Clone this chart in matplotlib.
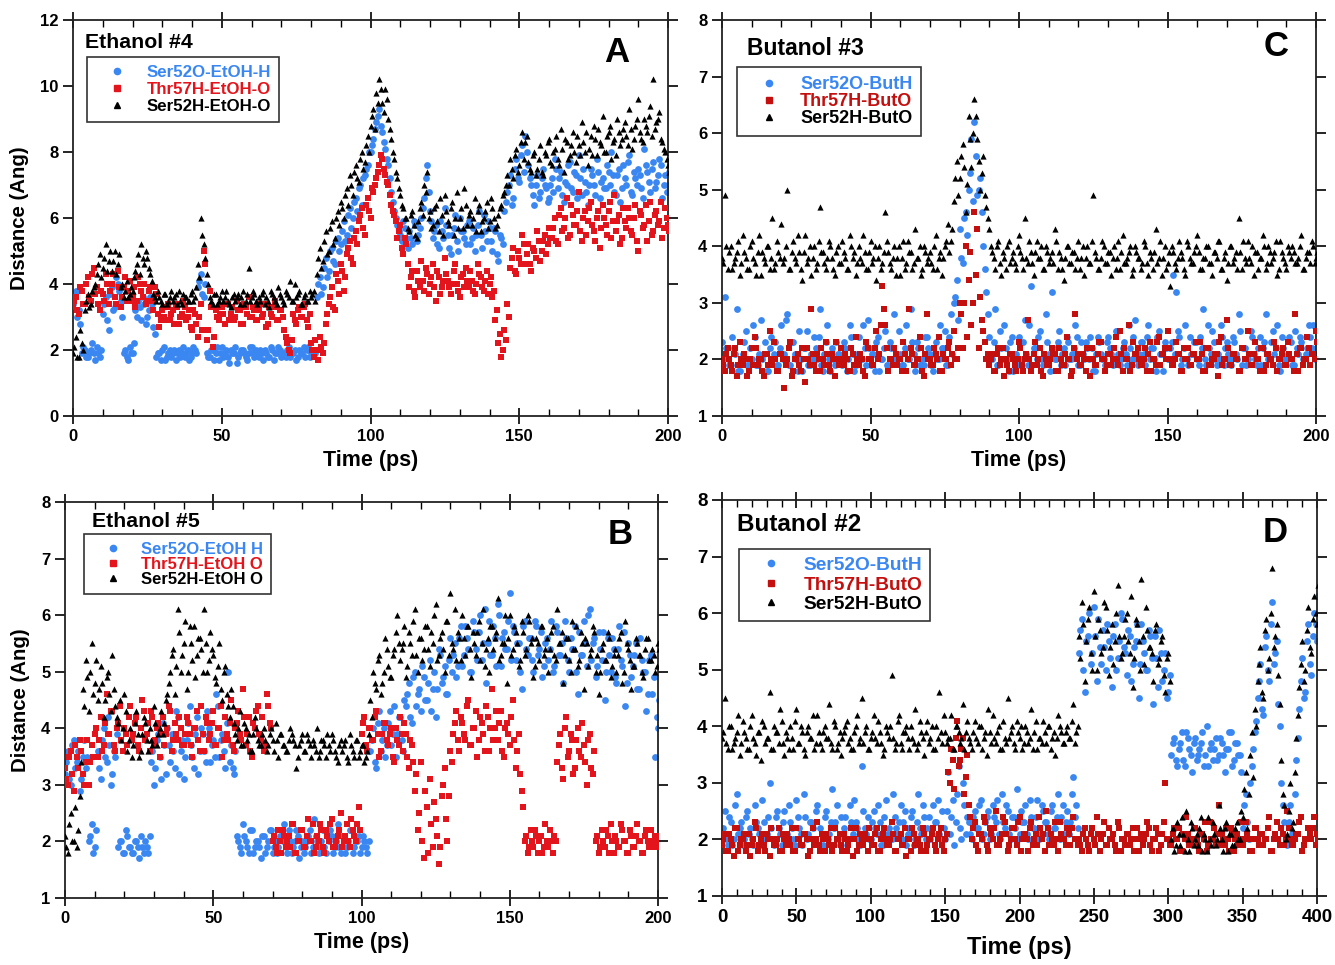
import numpy as np
import matplotlib
matplotlib.use("Agg")
import matplotlib.pyplot as plt
from matplotlib.lines import Line2D
from matplotlib.ticker import MultipleLocator

plt.rcParams['font.family'] = ['Liberation Sans', 'DejaVu Sans']
plt.rcParams['font.weight'] = 'bold'

# ---------------- Panel A : Ethanol #4 (0-200 ps) ----------------
A_blue = [3.4, 3.8, 3.2, 1.9, 2.0, 1.8, 2.0, 1.9, 2.1, 1.8,
          3.1, 3.6, 2.6, 3.9, 3.3, 4.0, 3.5, 1.9, 1.8, 2.1, 1.9,
          3.2, 3.5, 2.9, 3.4, 3.0, 3.6, 2.7,
          1.8, 1.9, 2.0, 1.7, 1.9, 1.8, 2.0, 1.9, 1.8, 2.1, 1.9, 1.7, 1.9, 2.0,
          3.9, 4.3, 3.6,
          1.9, 1.8, 2.0, 1.9, 1.7, 2.1, 1.9, 1.8, 2.0, 1.9, 1.6, 1.9, 2.0, 1.8, 1.9,
          2.1, 1.8, 1.9, 2.0, 1.7, 1.9, 1.8, 2.0, 1.9, 2.1, 1.8, 1.9, 2.0, 1.8, 1.9,
          1.7, 2.0, 1.9, 1.8, 2.1, 1.9, 2.0,
          3.6, 4.2, 3.9, 4.8, 4.4, 5.1, 4.6, 5.4,
          5.2, 5.9, 5.5, 6.3, 6.0, 6.6, 6.9, 6.4, 7.3, 7.6,
          8.0, 8.4, 8.9, 9.3, 8.6, 8.1, 7.6,
          6.8, 6.2, 5.8, 5.5, 5.9, 5.4,
          5.6, 5.2, 5.8, 5.5, 6.0, 6.6, 7.6, 6.2,
          5.4, 5.8, 5.1, 5.6, 6.3, 5.5, 4.9, 5.7, 5.3, 6.0, 5.6, 5.2, 5.9, 5.4, 5.0,
          5.8, 5.5, 6.1, 5.3, 5.7, 5.0, 5.6, 4.7, 5.4,
          6.2, 6.8, 7.3, 6.6, 7.8, 7.1, 8.2, 8.5, 7.6, 7.0, 6.4, 7.3, 6.8, 7.5, 6.9,
          6.6, 7.2, 7.8, 6.9, 7.4, 6.5, 7.0, 7.7, 6.8, 7.3, 7.9, 6.7, 7.1, 6.4, 7.5,
          7.0, 7.8, 6.6, 7.2, 6.9, 7.4, 8.0, 6.8, 7.3, 6.5, 7.6, 7.0, 7.9, 6.7, 7.2,
          7.5, 6.9, 8.1, 7.4, 6.8, 7.7, 7.1, 7.8, 6.6, 7.3, 7.0]
A_blue2 = [3.6, 3.0, 2.8, 2.1, 1.8, 1.9, 2.2, 1.7, 1.9, 2.0,
           3.4, 2.9, 3.7, 3.2, 4.2, 3.8, 3.0, 2.0, 1.7, 1.9, 2.2,
           3.0, 3.3, 3.6, 2.8, 3.2, 3.4, 2.5,
           1.9, 1.7, 2.1, 1.8, 2.0, 1.9, 1.7, 2.0, 1.9, 1.8, 2.0, 1.8, 2.1, 1.9,
           4.1, 3.7, 4.0,
           1.8, 2.0, 1.7, 2.1, 1.9, 1.8, 2.0, 1.6, 1.9, 2.1, 1.8, 2.0, 1.9, 1.7, 2.1,
           1.9, 2.0, 1.8, 1.9, 2.0, 1.8, 2.1, 1.7, 1.9, 2.0, 1.9, 1.8, 2.1, 1.9, 2.0,
           1.8, 1.9, 2.1, 2.0, 1.8, 2.0, 1.9,
           4.0, 3.7, 4.5, 4.2, 5.0, 4.7, 5.3, 5.0,
           5.6, 5.3, 6.1, 5.7, 6.5, 6.2, 7.0, 7.2, 7.5, 8.0,
           8.2, 8.7, 9.1, 8.8, 8.3, 7.8, 7.2,
           6.5, 6.0, 5.6, 5.3, 5.7, 5.1,
           5.4, 5.9, 5.3, 5.7, 6.3, 7.2, 6.8, 5.9,
           5.6, 5.2, 5.9, 5.4, 5.8, 5.1, 5.5, 6.1, 5.0, 5.6, 5.4, 5.8, 5.2, 5.7, 5.5,
           6.2, 5.1, 5.6, 5.9, 5.3, 5.7, 4.9, 5.5, 5.2,
           6.5, 7.0, 6.4, 7.5, 7.2, 7.9, 7.4, 8.0, 7.2, 6.7, 7.0, 6.6, 7.2, 7.0, 6.5,
           7.0, 6.8, 7.5, 7.2, 6.7, 7.1, 7.6, 6.9, 7.4, 6.6, 7.2, 7.5, 6.8, 7.0, 7.3,
           6.7, 7.4, 7.1, 6.9, 7.6, 7.0, 7.3, 6.7, 7.5, 6.9, 7.2, 7.7, 6.8, 7.4, 7.0,
           7.3, 6.6, 7.6, 7.1, 7.5, 6.9, 7.3, 7.6, 7.0, 6.8, 7.4]
A_red = [3.3, 3.6, 3.1, 3.8, 3.4, 4.2, 3.5, 4.5, 3.9, 3.2,
         3.7, 4.3, 3.4, 4.0, 3.6, 4.4, 3.3, 3.9, 3.5, 4.1,
         3.6, 3.3, 4.2, 3.8, 4.0, 3.5, 3.9, 3.2, 3.7, 2.7,
         3.2, 2.9, 3.4, 3.1, 2.8, 3.3, 3.0, 3.5, 2.9, 3.2, 2.6, 3.1, 2.4, 3.4, 5.0,
         2.3, 3.8, 2.1, 3.2, 2.9,
         3.3, 2.8, 3.4, 3.1, 2.9, 3.5, 3.2, 2.8, 3.3, 3.6, 3.0, 3.2, 2.9, 3.4, 3.1,
         2.7, 3.3, 3.0, 3.5, 2.9, 3.2, 2.6, 2.2, 1.9, 3.1, 2.8, 3.3, 3.0, 3.4, 2.7,
         2.2, 1.8, 2.0, 2.4, 1.9,
         2.8, 3.4, 3.9, 3.2, 4.1, 4.6, 3.8, 4.9, 5.3, 4.6, 5.6,
         5.9, 6.3, 5.5, 6.6, 6.0, 6.8, 7.2, 7.6,
         7.8, 7.3, 7.0, 6.4, 6.1, 5.4, 5.8, 4.9, 5.2,
         3.9, 4.4, 3.6, 4.1, 4.7, 3.8, 4.3, 4.0, 4.6, 3.5, 4.2, 3.9, 4.8, 4.1, 3.7,
         4.4, 4.0, 3.6, 4.3, 4.5, 3.9, 4.1, 3.7, 4.6, 4.2, 3.8, 4.4, 4.0, 3.6,
         2.9, 2.2, 1.8, 2.6, 3.4,
         4.5, 5.1, 4.3, 4.8, 5.5, 4.6, 5.2, 4.4, 5.0, 5.6, 4.7, 5.3, 4.9, 5.7,
         5.4, 6.0, 5.2, 6.3, 5.7, 6.6, 5.5, 6.1, 5.8, 6.8, 5.3, 6.2, 5.9, 6.5, 5.6,
         6.0, 5.1, 6.4, 5.8, 6.2, 5.4, 6.7, 5.9, 5.2, 6.3, 5.7, 6.0, 5.5, 6.4, 5.0,
         6.1, 5.8, 5.3, 6.5, 5.6, 6.2, 5.9, 5.4, 6.3, 5.8]
A_red2 = [3.5, 3.2, 3.9, 3.4, 4.0, 3.6, 4.3, 3.7, 3.4, 3.8,
          3.5, 4.0, 3.8, 4.3, 3.4, 3.9, 3.6, 4.2, 3.8, 3.5,
          3.9, 3.5, 4.0, 3.6, 3.4, 3.8, 3.5, 3.9, 3.1, 2.9,
          3.0, 3.3, 2.9, 3.2, 3.4, 2.8, 3.1, 3.3, 3.0, 2.7, 3.2, 2.8, 3.0, 2.6, 4.6,
          2.6, 3.3, 2.4, 3.0, 3.1,
          3.1, 3.4, 2.9, 3.3, 3.0, 3.2, 2.8, 3.4, 3.1, 3.0, 3.3, 2.9, 3.2, 3.0, 3.4,
          2.8, 3.1, 3.3, 2.9, 3.2, 3.0, 2.4, 2.0, 2.3, 2.9, 3.2, 3.0, 3.3, 2.9, 3.1,
          2.0, 2.3, 1.7, 2.1, 2.2,
          3.1, 3.6, 3.3, 4.3, 3.7, 4.4, 4.2, 5.1, 4.8, 5.4, 5.2,
          6.1, 5.7, 6.4, 6.2, 6.9, 7.0, 7.4, 7.9,
          7.5, 7.1, 6.7, 6.2, 5.9, 5.6, 5.1, 5.4, 4.6,
          4.2, 3.8, 4.4, 3.9, 4.1, 4.5, 3.7, 4.2, 3.9, 4.4, 3.7, 4.1, 4.3, 3.9, 4.0,
          4.6, 3.8, 4.2, 3.9, 4.1, 4.4, 3.8, 4.0, 4.3, 3.9, 4.1, 3.7, 4.2, 3.8,
          3.2, 2.5, 2.0, 2.3, 3.0,
          4.8, 4.4, 5.0, 4.6, 5.2, 4.9, 4.6, 5.1, 4.8, 5.3, 5.0, 5.5, 5.2, 5.4,
          5.7, 5.3, 6.1, 5.6, 6.0, 5.4, 6.4, 5.8, 6.2, 5.6, 6.0, 5.5, 6.3, 5.8, 5.3,
          6.2, 5.7, 6.0, 5.5, 6.5, 5.9, 5.6, 6.1, 5.4, 5.9, 6.3, 5.6, 6.0, 5.3, 6.2,
          5.7, 6.4, 5.9, 5.5, 6.1, 5.8, 6.5, 5.7, 6.0, 5.6]
A_black = [1.9, 2.4, 1.8, 2.2, 3.2, 3.7, 3.4, 3.9,
           4.3, 4.9, 4.5, 5.2, 4.7, 4.4, 5.0, 4.6,
           3.9, 3.6, 4.1, 3.7, 3.8,
           4.4, 4.9, 5.2, 4.6, 4.8, 4.3,
           3.7, 3.5, 3.6, 3.4, 3.7, 3.5, 3.8, 3.6, 3.4, 3.5, 3.7, 3.6, 3.5, 3.8, 3.6,
           4.6, 6.0, 5.2, 4.3,
           3.6, 3.4, 3.7, 3.5, 3.8, 3.6, 3.5, 3.3, 3.7, 3.6, 3.4, 3.8, 3.5, 4.5, 3.6,
           3.7, 3.4, 3.5, 3.8, 3.6, 3.3, 3.7, 3.5, 3.9, 3.6, 3.4, 3.7, 4.1, 3.5, 3.6,
           3.8, 3.4, 3.7, 3.5, 3.6, 3.8,
           4.3, 5.1, 4.7, 5.6, 5.0, 5.9, 5.4, 6.2,
           6.5, 6.0, 6.9, 7.3, 6.7, 7.6, 7.1, 8.0, 7.7, 8.5,
           8.8, 9.3, 9.8, 10.2, 9.5, 9.9, 9.0, 8.4, 7.8,
           7.2, 6.7, 6.3, 6.0, 5.6, 6.2, 5.5, 5.9,
           6.5, 7.0, 7.4, 6.2, 5.8, 6.4, 5.6, 6.1, 6.7, 5.9, 6.3, 5.5, 6.8, 6.0, 5.7,
           6.4, 6.1, 5.8, 6.6, 6.2, 5.6, 6.0, 6.5, 5.9, 6.3, 5.7, 6.1, 6.4, 6.8,
           7.3, 7.8, 7.2, 8.1, 7.6, 8.6, 8.3, 7.7, 7.4, 8.0,
           7.5, 8.2, 7.3, 7.9, 8.4, 7.6, 8.1, 7.8, 8.7, 7.4, 8.3, 7.9, 8.6, 7.7, 8.2,
           8.9, 8.0, 7.6, 8.5, 8.8, 7.9, 8.3, 9.1, 8.0, 8.6, 7.8, 8.4, 9.0, 8.2, 8.7,
           8.5, 9.3, 8.1, 8.8, 9.6, 8.4, 9.0, 8.6, 9.4, 10.2, 8.9, 9.2, 8.3, 8.0, 7.6]
A_black2 = [2.1, 1.8, 2.6, 2.0, 3.5, 3.3, 3.8, 4.0,
            4.6, 4.2, 4.8, 4.4, 5.0, 4.7, 4.3, 4.9,
            4.0, 3.8, 3.6, 3.9, 4.2,
            4.6, 4.3, 4.8, 5.0, 4.5, 4.1,
            3.6, 3.8, 3.5, 3.7, 3.4, 3.6, 3.5, 3.7, 3.8, 3.4, 3.6, 3.5, 3.7, 3.5, 3.9,
            4.2, 5.5, 4.8, 4.0,
            3.5, 3.7, 3.4, 3.6, 3.5, 3.8, 3.4, 3.6, 3.5, 3.7, 3.6, 3.4, 3.7, 3.5, 3.8,
            3.5, 3.6, 3.7, 3.4, 3.5, 3.8, 3.6, 3.4, 3.7, 3.5, 3.8, 3.6, 3.5, 4.0, 3.7,
            3.4, 3.6, 3.5, 3.8, 3.7, 3.5,
            4.8, 4.5, 5.3, 4.9, 5.7, 5.2, 6.0, 5.8,
            6.3, 6.7, 6.4, 7.0, 7.4, 7.2, 7.8, 7.5, 8.2, 8.0,
            9.1, 8.7, 9.5, 9.9, 9.2, 9.6, 8.7, 8.0, 7.4,
            6.9, 6.4, 6.0, 5.7, 6.1, 5.8, 5.4, 6.3,
            6.1, 6.8, 6.0, 5.7, 6.3, 5.9, 6.6, 5.5, 6.2, 5.8, 6.5, 6.0, 5.7, 6.3, 6.9,
            5.8, 6.2, 6.0, 5.6, 6.4, 5.9, 6.2, 5.7, 6.6, 6.0, 5.8, 6.3, 6.7, 7.0,
            7.0, 7.5, 7.9, 7.4, 8.3, 7.8, 8.5, 7.5, 7.9, 7.3,
            7.8, 7.4, 8.0, 8.3, 7.7, 8.0, 8.5, 7.6, 8.1, 8.4, 7.8, 8.2, 8.0, 8.5, 7.9,
            8.3, 8.6, 8.1, 7.9, 8.4, 8.7, 8.2, 8.0, 8.5, 8.8, 8.3, 7.9, 8.6, 8.4, 8.9,
            8.2, 8.7, 8.4, 9.0, 8.6, 8.3, 8.8, 9.1, 8.5, 8.7, 9.0, 8.4, 8.1, 7.8, 7.4]

# ---------------- Panel C : Butanol #3 (0-200 ps) ----------------
C_blue = [2.3, 3.1, 2.0, 1.9, 2.2, 2.9, 1.8, 2.1, 2.5, 1.9, 2.0, 2.4, 1.9, 2.7, 2.1, 1.8, 2.2, 2.0, 2.3, 1.9,
          2.6, 2.1, 2.8, 1.9, 2.3, 2.0, 2.5, 1.8, 2.2, 1.9, 2.1, 2.4, 2.0, 2.9, 1.8, 2.3, 2.0, 2.2, 1.9, 2.1,
          2.0, 2.3, 1.8, 2.6, 2.1, 1.9, 2.4, 2.0, 2.2, 2.7, 1.9, 2.1, 2.3, 1.8, 2.0, 2.5, 1.9, 2.2, 2.8, 2.0,
          2.1, 1.9, 2.6, 2.0, 2.3, 1.8, 2.2, 2.0, 1.9, 2.4, 2.1, 1.8, 2.3, 2.0, 2.2, 2.5, 1.9, 2.8, 3.0, 3.4,
          4.3, 3.7, 4.6, 5.0, 5.9, 6.2, 4.9, 5.2, 4.0, 3.2,
          2.4, 2.0, 2.9, 1.9, 2.2, 2.6, 2.0, 2.3, 1.8, 2.1, 2.4, 2.0, 2.7, 1.9, 3.3, 2.2, 2.0, 2.5, 1.9, 2.8,
          2.1, 3.2, 2.0, 2.3, 1.9, 2.2, 2.4, 2.0, 2.1, 2.6, 1.9, 2.3, 2.0, 2.2, 2.4, 1.8, 2.1, 2.3, 2.0, 1.9,
          2.4, 2.1, 2.0, 2.5, 1.9, 2.2, 2.1, 2.6, 2.0, 2.7, 1.9, 2.3, 2.1, 2.4, 2.0, 2.2, 1.8, 2.5, 2.1, 2.3,
          2.0, 2.2, 3.5, 3.2, 2.4, 2.0, 2.6, 1.9, 2.1, 2.3, 2.0, 2.4, 2.9, 1.9, 2.2, 2.5, 2.0, 2.1, 2.6, 1.9,
          2.3, 2.0, 2.4, 2.1, 2.8, 1.9, 2.2, 2.0, 2.5, 2.1, 1.9, 2.4, 2.2, 2.8, 2.0, 2.3, 2.1, 2.6, 1.8, 2.2,
          2.0, 2.4, 1.9, 2.5, 2.1, 2.3, 2.0, 2.2, 2.4, 2.6, 2.1]
C_blue2 = [2.0, 2.2, 1.9, 2.4, 2.1, 1.8, 2.0, 2.3, 1.9, 2.2, 2.6, 1.9, 2.1, 2.0, 2.3, 1.8, 2.4, 2.1, 1.9, 2.2,
           2.0, 2.7, 1.9, 2.3, 2.1, 1.8, 2.0, 2.2, 2.5, 1.9, 2.0, 2.2, 2.4, 1.9, 2.1, 2.6, 1.8, 2.0, 2.3, 2.1,
           1.9, 2.2, 2.0, 2.4, 1.8, 2.1, 2.0, 2.6, 1.9, 2.2, 2.1, 1.8, 2.4, 2.0, 2.2, 1.9, 2.3, 2.0, 2.1, 2.5,
           1.9, 2.2, 2.0, 2.9, 2.1, 2.3, 1.9, 2.0, 2.4, 2.2, 1.9, 2.1, 2.0, 2.6, 2.2, 1.9, 2.4, 2.1, 3.1, 2.7,
           3.8, 4.5, 4.2, 5.3, 4.8, 5.6, 5.0, 4.6, 3.6, 2.8,
           2.1, 2.3, 1.9, 2.5, 2.0, 2.2, 1.8, 2.4, 2.1, 1.9, 2.0, 2.3, 2.1, 2.6, 1.9, 2.2, 2.4, 2.0, 2.1, 2.3,
           1.8, 2.2, 2.0, 2.5, 2.1, 1.9, 2.3, 2.0, 2.2, 2.4, 1.9, 2.1, 2.3, 2.0, 2.2, 1.8, 2.4, 2.1, 2.0, 2.3,
           2.2, 1.9, 2.5, 2.1, 2.0, 2.3, 1.9, 2.2, 2.4, 2.0, 2.1, 2.3, 1.9, 2.6, 2.2, 2.0, 2.4, 2.1, 1.8, 2.2,
           2.0, 2.3, 2.1, 2.5, 1.9, 2.2, 2.0, 2.4, 2.1, 2.3, 1.9, 2.2, 2.0, 2.6, 2.1, 2.3, 1.9, 2.0, 2.4, 2.2,
           2.1, 1.9, 2.3, 2.0, 2.5, 2.2, 1.9, 2.1, 2.4, 2.0, 2.2, 1.9, 2.3, 2.1, 2.0, 2.5, 2.2, 1.9, 2.4, 2.0,
           2.1, 2.3, 1.9, 2.2, 2.4, 2.0, 2.1, 2.6, 2.2, 2.0, 2.3]
C_red = [2.0, 1.8, 2.2, 1.9, 2.1, 1.7, 2.3, 1.9, 2.0, 1.8, 2.2, 2.4, 1.9, 2.0, 1.7, 2.1, 2.5, 1.9, 2.0, 1.8,
         2.1, 1.5, 2.0, 2.3, 1.8, 2.0, 1.9, 2.2, 1.6, 2.0, 2.9, 1.9, 2.1, 1.8, 2.0, 2.3, 1.9, 2.1, 1.7, 2.0,
         2.2, 1.9, 2.0, 1.8, 2.1, 2.4, 1.9, 2.0, 1.7, 2.2, 2.0, 1.9, 2.5, 2.1, 3.3, 2.6, 1.8, 2.0, 2.2, 1.9,
         2.0, 2.3, 1.8, 2.9, 2.1, 1.9, 2.0, 2.2, 1.7, 2.8, 2.0, 1.9, 2.1, 2.4, 1.8, 2.0, 2.2, 1.9, 2.5, 2.0,
         3.0, 2.2, 4.0, 3.4, 2.6, 4.6, 4.3, 3.1, 2.5, 2.0,
         1.9, 2.1, 1.8, 2.2, 2.0, 1.7, 1.9, 2.1, 2.0, 1.8, 2.3, 1.9, 2.0, 2.7, 1.8, 2.1, 1.9, 2.2, 1.7, 2.0,
         1.9, 2.2, 2.1, 1.8, 2.0, 1.9, 2.4, 2.0, 1.8, 2.8, 2.1, 1.9, 2.0, 2.2, 1.7, 2.0, 1.9, 2.3, 2.0, 1.8,
         2.1, 1.9, 2.2, 2.0, 2.5, 1.8, 2.0, 2.6, 1.9, 2.1, 2.2, 1.9, 2.0, 1.8, 2.3, 2.0, 1.9, 2.4, 2.1, 2.2,
         2.5, 2.0, 1.9, 2.3, 2.1, 1.8, 2.0, 2.2, 1.9, 2.1, 2.0, 2.3, 1.8, 2.2, 1.9, 2.0, 2.1, 1.7, 2.4, 2.0,
         2.7, 1.9, 2.1, 2.0, 1.8, 2.2, 2.0, 2.5, 1.9, 2.1, 2.0, 1.8, 2.2, 1.9, 2.1, 2.0, 2.3, 1.8, 2.0, 2.2,
         1.9, 2.1, 2.0, 2.8, 1.8, 2.2, 2.0, 2.4, 1.9, 2.1, 2.5]
C_red2 = [1.9, 2.1, 2.0, 1.8, 2.2, 1.9, 2.0, 2.1, 1.7, 2.0, 1.9, 2.2, 2.0, 1.8, 2.1, 1.9, 2.0, 2.3, 1.8, 2.1,
          2.0, 1.9, 2.2, 1.7, 2.0, 2.1, 1.8, 2.0, 2.2, 1.9, 2.1, 1.8, 2.0, 2.2, 1.9, 2.1, 1.8, 2.0, 2.3, 1.9,
          2.0, 2.1, 1.8, 2.2, 1.9, 2.0, 2.1, 1.8, 2.3, 2.0, 1.9, 2.2, 2.0, 2.6, 2.9, 2.2, 2.0, 1.9, 2.1, 2.0,
          1.8, 2.1, 2.0, 2.2, 1.9, 2.0, 2.4, 1.8, 2.1, 2.0, 1.9, 2.2, 2.0, 1.8, 2.1, 2.0, 2.3, 2.1, 2.0, 2.2,
          2.8, 3.0, 2.4, 3.9, 3.0, 3.5, 2.2, 2.7, 2.3, 2.1,
          2.0, 1.8, 2.1, 1.9, 2.2, 2.0, 1.8, 2.1, 1.9, 2.0, 2.2, 1.8, 2.1, 2.0, 1.9, 2.3, 2.0, 1.8, 2.1, 1.9,
          2.0, 2.1, 1.8, 2.2, 1.9, 2.1, 2.0, 1.7, 2.2, 2.0, 1.9, 2.1, 1.8, 2.0, 2.2, 1.9, 2.1, 2.3, 2.0, 1.9,
          2.1, 2.0, 2.4, 1.9, 2.1, 2.2, 2.0, 1.8, 2.3, 2.1, 2.0, 1.9, 2.2, 2.1, 1.8, 2.0, 2.3, 1.9, 2.1, 2.0,
          2.2, 1.9, 2.0, 2.1, 1.8, 2.2, 2.0, 1.9, 2.1, 2.3, 2.0, 2.1, 1.8, 2.2, 1.9, 2.0, 2.1, 2.3, 1.9, 2.0,
          2.2, 1.9, 2.1, 2.0, 1.8, 2.2, 2.0, 2.1, 1.9, 2.3, 2.0, 2.2, 1.8, 2.1, 2.0, 1.9, 2.2, 2.0, 2.1, 1.9,
          2.3, 2.0, 1.8, 2.1, 2.2, 1.9, 2.0, 2.2, 2.1, 2.0, 2.3]
C_black = [3.8, 4.9, 3.6, 4.0, 3.7, 3.9, 3.5, 4.2, 3.8, 3.6, 4.1, 3.7, 3.9, 3.5, 3.8, 4.0, 3.6, 4.5, 3.7, 3.9,
           4.4, 3.8, 5.0, 3.6, 4.1, 3.7, 3.9, 3.4, 4.2, 3.8, 3.5, 4.0, 3.7, 4.7, 3.9, 3.6, 4.1, 3.8, 3.5, 4.0,
           3.7, 3.9, 3.6, 4.2, 3.8, 3.5, 4.0, 3.7, 3.9, 3.6, 4.1, 3.8, 3.4, 4.0, 3.7, 4.6, 3.9, 3.6, 4.0, 3.8,
           3.5, 4.1, 3.7, 3.9, 3.6, 4.3, 3.8, 3.5, 4.0, 3.7, 3.9, 3.6, 4.2, 3.8, 3.5, 4.0, 4.4, 4.1,
           4.8, 5.5, 5.2, 5.8, 4.6, 6.3, 5.4, 6.6, 5.9, 5.0, 5.6, 4.7, 4.3,
           3.9, 3.6, 4.1, 3.5, 3.8, 4.0, 3.7, 3.9, 3.6, 4.2, 3.8, 4.5, 3.7, 3.9, 3.5, 4.1, 3.8, 3.6, 4.0, 3.7,
           3.9, 4.3, 3.6, 3.8, 3.4, 4.0, 3.7, 3.9, 3.6, 4.1, 3.8, 3.5, 4.0, 3.7, 4.9, 3.8, 3.6, 4.1, 3.7, 3.9,
           3.5, 4.0, 3.8, 3.6, 4.2, 3.7, 3.9, 3.5, 4.0, 3.8, 3.6, 4.1, 3.7, 3.9, 3.6, 4.3, 3.8, 3.5, 4.0, 3.7,
           3.3, 3.9, 3.6, 4.1, 3.8, 3.5, 4.0, 3.7, 3.9, 4.2, 3.6, 3.8, 4.0, 3.7, 3.5, 3.9, 4.1, 3.6, 3.8, 3.4,
           4.0, 3.7, 3.9, 4.5, 3.6, 3.8, 4.1, 3.7, 3.5, 3.9, 3.8, 4.2, 3.6, 4.0, 3.7, 3.9, 3.5, 4.1, 3.8, 3.6,
           3.9, 4.0, 3.7, 3.8, 4.2, 3.6, 3.9, 3.7, 4.0, 3.8]
C_black2 = [3.7, 4.0, 3.9, 3.6, 3.8, 4.1, 3.7, 3.9, 3.6, 4.0, 3.8, 3.5, 4.2, 3.9, 3.7, 4.0, 3.8, 3.6, 4.1, 3.8,
            3.7, 4.0, 3.6, 3.9, 3.8, 4.2, 3.6, 3.9, 3.7, 4.0, 3.8, 3.6, 4.1, 3.9, 3.7, 3.8, 4.0, 3.6, 3.9, 3.7,
            4.1, 3.8, 3.6, 4.0, 3.9, 3.7, 3.8, 4.2, 3.6, 3.9, 3.7, 4.0, 3.8, 3.6, 3.9, 4.1, 3.7, 3.8, 3.5, 4.0,
            3.8, 3.6, 4.1, 3.9, 3.7, 3.8, 4.0, 3.6, 3.9, 3.8, 3.7, 4.0, 3.6, 3.9, 3.8, 4.1, 3.9, 4.3,
            5.2, 4.9, 5.6, 5.4, 5.1, 5.9, 6.0, 6.3, 5.5, 5.3, 4.9, 4.5, 4.0,
            3.8, 4.0, 3.7, 3.9, 3.6, 4.1, 3.8, 3.7, 4.0, 3.9, 3.6, 3.8, 4.1, 3.7, 3.9, 3.8, 4.0, 3.6, 3.9, 3.8,
            3.7, 4.1, 3.9, 3.6, 3.8, 4.0, 3.7, 3.9, 3.8, 3.6, 4.0, 3.8, 3.7, 4.1, 3.9, 3.6, 3.8, 4.0, 3.7, 3.9,
            3.8, 3.6, 4.1, 3.9, 3.7, 3.8, 4.0, 3.6, 3.9, 3.8, 3.7, 4.0, 3.5, 3.8, 3.9, 3.7, 4.1, 3.8, 3.6, 3.9,
            4.0, 3.7, 3.8, 3.9, 3.6, 4.1, 3.8, 3.7, 4.0, 3.9, 3.6, 3.8, 4.0, 3.7, 3.9, 3.8, 4.1, 3.6, 3.9, 3.7,
            4.0, 3.8, 3.6, 3.9, 4.1, 3.7, 3.8, 4.0, 3.9, 3.6, 3.8, 4.0, 3.7, 3.9, 3.8, 4.1, 3.6, 3.9, 3.7, 4.0,
            3.8, 3.9, 3.7, 4.0, 3.6, 3.8, 3.9, 4.1, 3.7, 3.9]

# ---------------- Panel B : Ethanol #5 (0-200 ps) ----------------
B_blue = [3.2, 3.6, 3.0, 3.8, 3.4, 2.9, 3.5, 3.3, 2.0, 2.3, 1.9,
          3.6, 3.1, 4.0, 3.4, 3.7, 3.2, 3.5,
          1.9, 2.0, 1.8, 2.1, 1.9, 1.8, 2.0, 1.7, 1.9, 2.0, 1.8,
          3.4, 3.0, 3.8, 3.5, 4.1, 3.2, 3.7, 3.9, 3.3, 4.2, 3.6, 3.1, 3.8, 4.4, 3.5,
          3.9, 3.2, 4.0, 3.6, 4.3, 3.4, 3.8, 4.6, 3.5, 3.9, 3.3, 5.0, 3.7, 3.2,
          2.1, 1.9, 2.3, 2.0, 1.8, 2.2, 1.9, 2.0, 1.7, 2.1, 1.9, 2.2, 1.8, 2.0, 1.9,
          2.1, 2.3, 1.8, 2.0, 1.9, 2.2, 1.7, 2.0, 1.9, 2.1, 1.8, 2.4, 2.0, 1.9, 2.2,
          1.8, 2.0, 2.1, 1.9, 2.3, 1.8, 2.0, 1.9, 2.2, 1.8, 2.0, 2.1, 1.9, 2.0, 1.8,
          3.6, 4.0, 3.3, 4.3, 3.8, 3.5, 4.1, 3.7, 4.4, 3.9, 4.2, 3.6,
          4.4, 4.8, 4.1, 5.0, 4.6, 4.3, 4.9, 4.5, 5.2, 4.7, 4.2, 5.4, 4.8, 5.1, 4.6, 5.6,
          5.3, 4.9, 5.6, 5.1, 5.8, 5.4, 5.0, 5.7, 5.2, 6.0, 5.5, 4.8, 5.9, 5.3, 5.6,
          6.2, 5.1, 5.7, 5.4, 6.4, 5.8, 5.2, 5.5, 4.7, 5.9, 5.3, 5.6, 5.0, 5.8, 5.4,
          4.9, 5.5, 5.2, 5.9, 5.1, 5.7, 5.3, 4.8, 5.6, 5.0, 5.4, 5.8, 4.6, 5.3, 5.9,
          5.1, 6.1, 5.5, 4.9, 5.7, 5.2, 4.5, 5.6, 5.0, 5.4, 4.8, 5.8, 5.1, 4.4, 5.5,
          4.9, 5.3, 4.7, 5.6, 5.0, 4.3, 5.2, 4.6, 3.5, 4.0]
B_blue2 = [3.4, 3.1, 3.7, 3.3, 3.6, 3.1, 3.8, 3.5, 2.1, 1.8, 2.2,
           3.3, 3.8, 3.5, 4.2, 3.0, 3.6, 3.9,
           2.0, 1.8, 2.2, 1.9, 1.8, 2.0, 1.9, 2.1, 1.8, 1.9, 2.1,
           3.6, 3.3, 3.9, 3.1, 3.7, 4.0, 3.4, 3.6, 4.3, 3.2, 3.8, 3.5, 4.1, 3.7, 3.3,
           4.2, 3.6, 3.9, 3.4, 4.0, 3.7, 3.5, 4.4, 3.8, 3.6, 4.1, 3.4, 3.3, 3.6,
           2.0, 1.8, 2.1, 1.9, 2.2, 1.8, 2.0, 1.9, 2.1, 1.8, 2.0, 2.2, 1.9, 1.8, 2.1,
           2.0, 1.9, 2.2, 1.8, 2.0, 2.1, 1.9, 1.8, 2.0, 2.2, 1.9, 2.1, 1.8, 2.0, 1.9,
           2.1, 2.2, 1.8, 2.0, 1.9, 2.1, 1.8, 2.0, 2.2, 1.9, 2.0, 1.8, 2.1, 1.9, 2.0,
           3.8, 3.4, 4.1, 3.6, 4.0, 3.7, 4.3, 3.9, 3.5, 4.2, 3.8, 4.5,
           4.6, 4.2, 4.9, 4.4, 4.7, 5.1, 4.5, 4.8, 4.3, 5.0, 4.7, 5.3, 4.9, 4.6, 5.2, 5.0,
           5.5, 5.1, 5.8, 5.3, 5.6, 5.0, 5.9, 5.4, 5.7, 5.2, 6.1, 5.5, 5.3, 5.8, 5.1,
           6.0, 5.6, 5.4, 5.9, 5.2, 5.7, 5.5, 5.0, 5.8, 5.4, 5.6, 5.2, 5.9, 5.3, 5.7,
           5.1, 5.6, 5.4, 5.0, 5.8, 5.3, 5.5, 5.9, 5.2, 5.6, 5.4, 5.0, 5.7, 5.3, 5.5,
           6.0, 5.2, 5.6, 5.1, 5.4, 5.7, 5.0, 5.3, 5.6, 4.9, 5.4, 5.2, 5.7, 4.8, 5.3,
           5.1, 5.5, 4.7, 5.2, 5.0, 4.6, 5.3, 4.9, 4.2, 4.5]
B_red = [3.3, 3.0, 3.6, 2.9, 3.5, 3.8, 3.2, 3.4, 3.0, 3.7,
         3.9, 3.5, 4.2, 3.7, 4.6, 3.9, 4.3, 3.6, 4.1, 3.8, 4.0, 3.7, 4.4, 3.9, 4.2,
         3.6, 4.5, 3.8, 4.1, 4.3, 3.7, 4.0, 3.5, 4.2, 3.9, 4.4, 3.6, 4.1, 3.8, 4.0,
         3.7, 4.2, 3.9, 3.5, 4.0, 3.8, 4.4, 3.6, 4.1, 3.9, 4.3, 3.7, 4.0, 3.5, 4.2,
         3.8, 4.5, 3.6, 4.1, 3.9, 4.7, 3.7, 4.2, 3.5, 4.0, 4.4, 3.8, 3.6, 4.6, 4.1,
         2.0, 1.9, 2.2, 1.8, 2.1, 2.0, 1.9, 2.3, 1.8, 2.0, 2.2, 1.9, 2.4, 2.0, 1.8,
         2.1, 2.3, 1.9, 2.2, 2.0, 2.4, 1.9, 2.1, 2.5, 2.0, 2.3, 1.9, 2.2, 2.0, 2.6,
         3.9, 4.2, 3.6, 4.0, 3.8, 4.3, 3.5, 3.9, 4.1, 3.7, 4.0, 3.4, 3.8, 4.2, 3.6, 3.9, 3.3, 3.7,
         2.9, 2.2, 3.4, 1.7, 2.6, 3.1, 1.9, 2.4, 1.6, 2.8, 3.3, 2.0, 3.6,
         3.9, 4.3, 3.6, 4.1, 3.8, 4.5, 3.7, 4.0, 3.5, 4.2, 3.9, 4.4, 3.6, 4.7, 4.0,
         3.8, 4.3, 3.5, 4.1, 3.7, 4.5, 3.3, 3.9, 2.9,
         2.0, 1.8, 2.2, 1.9, 2.1, 2.0, 1.8, 2.3, 1.9, 2.0, 2.1,
         3.4, 3.9, 3.1, 4.2, 3.6, 3.8, 3.3, 4.0, 3.5, 3.7, 3.0, 3.9, 3.2,
         2.0, 1.8, 2.2, 1.9, 2.1, 2.3, 1.8, 2.0, 1.9, 2.2, 2.0, 1.8, 2.1, 1.9, 2.3,
         2.0, 1.8, 2.2, 1.9, 2.0, 2.1, 1.9]
B_red2 = [3.1, 3.5, 3.2, 3.7, 3.3, 3.6, 3.0, 3.8, 3.4, 3.5,
          4.0, 3.8, 3.6, 4.1, 3.9, 4.3, 3.7, 4.0, 4.4, 3.6, 3.9, 4.2, 3.8, 4.1, 3.7,
          4.0, 4.3, 3.9, 3.6, 4.2, 3.8, 4.1, 3.9, 3.7, 4.0, 4.3, 3.8, 3.9, 4.2, 3.7,
          3.9, 4.1, 3.7, 4.0, 4.3, 3.6, 3.9, 4.2, 3.8, 4.1, 3.7, 4.0, 4.4, 3.8, 3.9,
          4.1, 3.7, 4.0, 4.3, 3.8, 4.2, 3.9, 3.6, 4.1, 4.3, 3.9, 4.2, 3.7, 4.4, 4.0,
          2.1, 1.8, 2.0, 2.2, 1.9, 2.1, 2.3, 1.8, 2.0, 2.2, 1.9, 2.1, 2.0, 2.3, 1.9,
          2.0, 2.2, 1.8, 2.1, 2.3, 1.9, 2.0, 2.2, 1.9, 2.1, 2.0, 2.4, 2.1, 2.3, 2.2,
          4.1, 3.7, 4.0, 3.8, 4.2, 3.9, 3.6, 4.1, 3.8, 3.9, 3.5, 4.0, 3.7, 3.9, 4.1, 3.5, 3.8, 3.4,
          3.2, 2.5, 2.0, 2.9, 1.8, 2.3, 2.7, 2.1, 1.9, 3.0, 2.4, 2.8, 3.4,
          4.1, 3.8, 4.2, 3.9, 4.4, 3.7, 4.0, 4.3, 3.8, 4.1, 3.6, 4.2, 4.0, 3.8, 4.3,
          4.1, 3.6, 4.0, 3.9, 4.2, 3.8, 3.6, 3.2, 2.6,
          2.1, 1.9, 2.0, 2.2, 1.8, 2.1, 1.9, 2.0, 2.2, 1.8, 2.0,
          3.7, 3.3, 4.0, 3.5, 3.9, 3.2, 3.8, 3.6, 4.1, 3.4, 3.8, 3.3, 3.6,
          2.1, 1.9, 2.0, 2.2, 1.8, 2.0, 2.1, 1.9, 2.3, 2.0, 1.8, 2.2, 1.9, 2.1, 2.0,
          1.8, 2.1, 2.0, 2.2, 1.9, 2.0, 2.1]
B_black = [2.1, 1.8, 2.5, 2.0, 1.9, 2.8,
           4.7, 5.2, 4.3, 5.5, 4.8, 4.5, 5.1, 4.2, 4.9, 4.6, 5.3, 4.4, 4.1, 3.8, 4.6,
           3.6, 4.0, 3.7, 4.3, 3.5, 3.9, 4.1, 3.6, 3.8, 4.4, 3.7, 4.0, 3.9, 4.5,
           4.8, 5.3, 4.6, 6.1, 5.0, 5.5, 4.7, 5.8, 5.2, 4.9, 5.6, 5.4, 6.1, 5.0, 5.7,
           5.3, 4.8, 5.5, 4.5, 5.1, 4.4, 4.7,
           4.1, 3.8, 4.3, 3.7, 4.0, 3.9, 3.6, 4.2, 3.8, 3.7, 4.0, 3.6, 3.9, 3.8, 4.1,
           3.5, 3.9, 3.7, 3.6, 4.0, 3.8, 3.3, 3.7, 3.9, 3.6, 3.8, 3.5, 3.7, 4.0, 3.6,
           3.8, 3.5, 3.7, 3.9, 3.6, 3.4, 3.8, 3.7, 3.5, 3.9, 3.6, 3.8, 3.5, 3.7, 3.4, 3.6,
           4.5, 5.0, 4.7, 5.3, 4.8, 5.6, 5.1, 4.9, 5.4, 6.0,
           5.2, 5.5, 4.9, 5.7, 5.3, 6.1, 5.0, 5.6, 5.4, 5.8, 5.1, 5.5, 6.2, 5.3, 5.7,
           5.0, 5.9, 6.4, 5.4, 5.2, 5.6, 6.0, 5.3, 5.8, 4.9, 5.5, 5.7, 5.2, 6.1, 5.4,
           5.0, 5.8, 5.6, 6.3, 5.3, 5.5, 4.8, 6.0, 5.4, 5.7, 5.1, 5.9, 5.3, 6.0, 5.5,
           4.9, 5.6, 5.2, 5.8, 5.4, 5.0, 5.7, 5.3, 6.1, 5.5, 4.8, 5.6, 5.2, 5.9, 5.4,
           5.1, 5.7, 4.7, 5.5, 5.3, 5.8, 5.0, 4.6, 5.4, 5.2, 5.7, 4.9, 5.3, 5.0, 5.6,
           4.8, 5.9, 5.4, 4.7, 5.1, 5.5, 5.3, 4.9, 5.6, 5.2, 5.4, 5.0, 5.5]
B_black2 = [1.9, 2.3, 2.0, 2.6, 2.2, 3.4,
            4.4, 4.9, 5.0, 4.6, 5.2, 4.7, 4.8, 4.5, 5.0, 4.3, 4.7, 4.2, 4.5, 4.0, 4.3,
            3.8, 3.5, 4.1, 3.9, 3.6, 4.2, 3.8, 4.0, 3.7, 4.1, 3.9, 4.3, 4.1, 4.6,
            5.0, 5.4, 5.1, 5.7, 5.3, 5.9, 5.0, 5.5, 5.8, 5.3, 5.6, 5.0, 5.5, 5.2, 5.4,
            4.9, 5.1, 4.7, 5.0, 4.6, 4.2, 4.4,
            3.9, 4.0, 3.7, 4.1, 3.8, 3.6, 3.9, 4.0, 3.7, 3.9, 3.8, 3.7, 4.0, 3.6, 3.8,
            3.9, 3.7, 3.6, 3.8, 3.9, 3.7, 3.5, 3.8, 3.6, 3.9, 3.7, 3.8, 3.6, 3.5, 3.8,
            3.7, 3.9, 3.6, 3.8, 3.5, 3.7, 3.6, 3.8, 3.4, 3.7, 3.5, 3.8, 3.6, 3.7, 3.5, 3.9,
            4.2, 4.8, 5.2, 4.6, 5.0, 5.4, 4.9, 5.3, 5.7, 5.5,
            5.4, 5.8, 5.1, 5.5, 5.9, 5.3, 5.6, 5.2, 5.8, 5.4, 5.7, 6.0, 5.2, 5.6, 5.4,
            5.9, 5.3, 5.5, 6.1, 5.7, 5.2, 5.6, 5.8, 5.4, 5.7, 5.3, 5.9, 5.5, 5.1, 5.6,
            5.8, 5.4, 5.7, 5.2, 5.5, 6.0, 5.6, 5.3, 5.8, 5.5, 5.2, 5.7, 5.4, 5.9, 5.6,
            5.1, 5.5, 5.8, 5.3, 5.6, 5.4, 5.8, 5.2, 5.5, 5.7, 5.3, 5.6, 5.0, 5.4, 5.8,
            5.2, 5.5, 5.6, 5.1, 5.4, 5.7, 5.3, 5.0, 5.5, 5.2, 5.6, 5.1, 5.4, 5.3, 5.7,
            5.0, 5.5, 5.2, 5.1, 5.6, 5.3, 5.0, 5.4, 5.6, 5.2, 5.3, 5.1, 5.4]

# ---------------- Panel D : Butanol #2 (0-400 ps) ----------------
D_blue = [2.1, 2.5, 1.9, 2.3, 2.0, 2.8, 2.2, 1.9, 2.4, 2.1, 2.0, 2.6, 2.2, 1.9, 2.3,
          2.1, 3.0, 2.0, 2.4, 2.2, 1.9, 2.5, 2.1, 2.3, 2.0, 2.7, 2.2, 1.9, 2.4, 2.1,
          2.3, 2.0, 2.6, 2.2, 1.9, 2.5, 2.1, 2.9, 2.3, 2.0, 2.4, 2.2, 1.9, 2.6, 2.1,
          2.3, 2.0, 3.3, 2.2, 2.4, 2.0, 2.5, 2.1, 2.3, 1.9, 2.7, 2.2, 2.0, 2.4, 2.1,
          2.6, 2.3, 1.9, 2.2, 2.5, 2.0, 2.8, 2.1, 2.4, 2.2, 2.0, 2.6, 2.3, 2.1, 2.5,
          2.0, 3.2, 2.4, 1.9, 2.8, 2.2, 3.0, 2.1,
          2.3, 2.0, 2.5, 2.2, 2.7, 2.1, 2.4, 2.0, 2.6, 2.3, 2.1, 2.8, 2.2, 2.5, 2.0,
          2.4, 2.9, 2.1, 2.3, 2.6, 2.0, 2.4, 2.2, 2.7, 2.1, 2.5, 2.3, 2.0, 2.6, 2.2,
          2.8, 2.4, 2.1, 2.5, 2.3, 3.1, 2.6,
          5.3, 5.9, 4.6, 5.6, 5.1, 6.1, 4.8, 5.4, 5.7, 5.0, 5.5, 4.7, 5.8, 5.2, 6.0,
          5.4, 4.9, 5.6, 5.1, 5.5, 4.5, 5.8, 5.3, 5.0, 5.6, 4.4, 5.2, 5.7, 4.8, 5.3, 4.6,
          3.5, 3.8, 3.3, 3.7, 3.4, 3.9, 3.6, 3.2, 3.8, 3.5, 3.7, 3.3, 4.0, 3.6, 3.4,
          3.8, 3.5, 3.7, 3.2, 3.6, 3.9, 3.4, 3.7, 3.5,
          2.2, 2.8, 2.0, 3.3, 3.9,
          4.5, 5.1, 4.2, 5.6, 4.8, 6.2, 5.3, 4.4,
          3.0, 2.3, 1.9, 2.6, 2.1, 3.4,
          4.3, 5.2, 4.6, 5.8, 4.9, 6.0, 5.5]
D_blue2 = [2.2, 2.0, 2.4, 1.9, 2.6, 2.1, 2.3, 2.0, 2.5, 2.2, 1.9, 2.3, 2.1, 2.7, 2.0,
           2.4, 2.2, 1.9, 2.5, 2.1, 2.3, 2.0, 2.6, 2.2, 1.9, 2.4, 2.1, 2.8, 2.0, 2.3,
           2.2, 2.5, 1.9, 2.1, 2.4, 2.0, 2.3, 2.2, 2.6, 1.9, 2.1, 2.4, 2.0, 2.3, 2.7,
           2.2, 1.9, 2.5, 2.1, 2.0, 2.3, 2.2, 2.6, 1.9, 2.4, 2.1, 2.0, 2.8, 2.2, 2.3,
           2.0, 2.5, 2.1, 2.4, 1.9, 2.3, 2.2, 2.6, 2.0, 2.4, 2.1, 2.3, 2.7, 2.0, 2.2,
           2.5, 2.1, 2.7, 2.3, 3.3, 2.0, 2.6, 2.4,
           2.1, 2.4, 2.2, 2.6, 2.0, 2.3, 2.5, 2.1, 2.4, 2.7, 2.0, 2.3, 2.6, 2.1, 2.4,
           2.2, 2.0, 2.5, 2.3, 2.1, 2.7, 2.2, 2.4, 2.0, 2.6, 2.3, 2.1, 2.5, 2.2, 2.4,
           2.0, 2.6, 2.3, 2.1, 2.8, 2.4, 2.2,
           5.7, 5.0, 5.5, 6.0, 5.3, 5.6, 5.9, 5.1, 5.4, 5.8, 5.2, 5.6, 5.0, 5.5, 5.9,
           5.3, 5.7, 4.8, 5.4, 5.8, 5.1, 5.5, 5.0, 5.7, 5.2, 5.6, 4.7, 5.3, 5.0, 4.5, 4.9,
           3.7, 3.4, 3.6, 3.9, 3.3, 3.8, 3.5, 3.7, 3.4, 3.6, 3.9, 3.5, 3.3, 3.7, 3.6,
           3.4, 3.8, 3.5, 3.6, 3.9, 3.3, 3.7, 3.5, 3.2,
           2.6, 2.3, 3.0, 3.6, 4.1,
           4.8, 4.3, 5.4, 5.0, 5.8, 5.1, 5.5, 4.0,
           2.6, 2.0, 2.3, 2.1, 2.8, 3.8,
           4.8, 4.5, 5.5, 5.1, 5.6, 5.8, 6.3]
D_red = [1.9, 2.1, 1.8, 2.0, 1.7, 2.2, 1.9, 2.0, 1.8, 2.1, 1.9, 2.3, 1.8, 2.0, 1.9,
         2.1, 1.7, 2.0, 1.9, 2.2, 1.8, 2.0, 2.1, 1.9, 1.8, 2.2, 2.0, 1.9, 2.1, 1.7,
         2.0, 1.9, 2.3, 1.8, 2.0, 2.1, 1.9, 1.8, 2.2, 2.0, 1.9, 2.1, 1.8, 2.0, 1.7,
         2.2, 1.9, 2.0, 2.1, 1.8, 2.0, 1.9, 2.2, 1.8, 2.1, 2.0, 1.9, 2.3, 1.8, 2.0,
         2.1, 1.9, 1.7, 2.0, 2.2, 1.9, 2.0, 1.8, 2.1, 1.9, 2.0, 2.2, 1.8, 2.1, 1.9, 2.0,
         3.2, 3.6, 2.9, 4.1, 3.4, 3.8, 3.1, 2.6,
         2.0, 2.3, 1.8, 2.1, 2.4, 1.9, 2.2, 2.0, 2.5, 1.9, 2.1, 2.3, 1.8, 2.0, 2.2,
         1.9, 2.4, 2.0, 2.1, 1.8, 2.3, 2.0, 1.9, 2.2, 2.1, 2.5, 1.9, 2.0, 2.3, 1.8,
         2.1, 2.0, 2.2, 1.9, 2.4, 2.0,
         2.0, 1.8, 2.2, 1.9, 2.1, 2.0, 2.4, 1.8, 2.1, 1.9, 2.2, 2.0, 1.9, 2.3, 1.8,
         2.0, 2.1, 1.9, 2.2, 2.0, 1.8, 2.1, 2.0, 2.3, 1.9, 2.0, 2.2, 1.8, 2.1, 3.0,
         2.0, 1.9, 2.2, 2.0, 1.8, 2.1, 2.4, 1.9, 2.0, 2.2, 1.9, 2.1, 2.0, 1.8, 2.3,
         2.0, 1.9, 2.6, 2.1, 1.9, 2.0, 2.2, 1.8, 2.1, 2.0, 1.9, 2.3, 2.0, 1.8, 2.2,
         2.0, 2.1, 1.9, 2.0, 2.4, 1.8, 2.1, 2.0, 2.2, 1.9, 2.5, 2.0, 1.9, 2.1, 2.3,
         1.8, 2.0, 2.2, 2.0, 2.4, 2.1]
D_red2 = [2.0, 1.8, 2.1, 1.9, 2.2, 1.8, 2.0, 2.1, 1.9, 1.7, 2.0, 2.2, 1.9, 2.1, 1.8,
          2.0, 2.2, 1.9, 2.0, 1.8, 2.1, 1.9, 2.0, 2.2, 1.8, 2.0, 1.9, 2.1, 2.0, 1.8,
          2.2, 2.0, 1.9, 2.1, 1.8, 2.0, 2.2, 1.9, 2.0, 2.1, 1.8, 2.0, 1.9, 2.2, 2.0,
          1.8, 2.1, 1.9, 2.0, 2.2, 1.9, 2.1, 1.8, 2.0, 2.2, 1.9, 2.0, 2.1, 1.8, 2.0,
          1.9, 2.2, 2.0, 1.8, 2.1, 2.0, 1.9, 2.2, 1.8, 2.0, 2.1, 1.9, 2.0, 2.2, 1.8, 2.1,
          3.0, 3.4, 3.8, 3.3, 3.6, 2.8, 3.5, 2.4,
          2.2, 1.9, 2.1, 2.0, 2.3, 1.8, 2.1, 2.2, 1.9, 2.0, 2.4, 2.1, 1.9, 2.2, 2.0,
          2.3, 1.8, 2.1, 2.0, 2.2, 1.9, 2.1, 2.4, 2.0, 1.8, 2.2, 2.1, 1.9, 2.0, 2.3,
          2.0, 1.9, 2.1, 2.2, 2.0, 1.9,
          1.9, 2.1, 2.0, 1.8, 2.2, 1.9, 2.1, 2.0, 2.3, 1.9, 2.0, 2.1, 1.8, 2.2, 2.0,
          1.9, 2.1, 2.0, 1.8, 2.2, 2.0, 1.9, 2.1, 2.2, 1.8, 2.0, 2.1, 1.9, 2.3, 2.0,
          1.9, 2.1, 2.0, 2.2, 1.8, 2.0, 2.1, 1.9, 2.2, 2.0, 1.8, 2.1, 2.3, 1.9, 2.0,
          2.2, 2.1, 1.9, 2.0, 2.2, 1.8, 2.1, 2.0, 1.9, 2.3, 2.0, 2.1, 1.8, 2.0, 2.2,
          1.9, 2.1, 2.0, 2.2, 1.8, 2.0, 2.3, 1.9, 2.1, 2.0, 2.2, 1.9, 2.0, 2.1, 2.4,
          1.9, 2.0, 2.1, 2.2, 1.9, 2.0]
D_black = [3.8, 4.5, 3.6, 4.0, 3.7, 3.9, 3.5, 4.1, 3.8, 3.6, 4.2, 3.7, 3.9, 3.4, 4.0,
           3.8, 4.6, 3.6, 3.9, 3.7, 4.1, 3.5, 3.8, 4.0, 3.6, 4.3, 3.7, 3.9, 3.5, 4.0,
           3.8, 3.6, 4.2, 3.7, 3.9, 3.8, 4.4, 3.6, 4.0, 3.7, 3.5, 3.9, 4.1, 3.8, 3.6,
           4.0, 3.7, 4.5, 3.9, 3.6, 3.8, 4.2, 3.7, 3.9, 3.5, 4.0, 3.8, 4.9, 3.6, 4.1,
           3.7, 3.9, 4.0, 3.6, 3.8, 4.3, 3.7, 3.9, 3.5, 4.1, 3.8, 3.6, 4.0, 4.6, 3.7,
           3.9, 3.8, 4.2, 3.6, 4.0, 3.7, 4.4, 3.9, 3.8, 3.6, 4.1, 3.7, 4.0, 3.8, 3.5,
           3.9, 4.2, 3.7, 4.0, 3.6, 3.8, 4.5, 3.9, 3.7, 4.1, 3.8, 3.6, 4.0, 3.7, 4.3,
           3.9, 3.6, 3.8, 4.1, 3.7, 4.0, 3.8, 3.5, 4.2, 3.9, 3.7, 4.0, 3.8, 4.4, 3.9,
           5.6, 6.2, 4.8, 5.9, 5.3, 6.4, 5.0, 5.7, 5.4, 6.1, 4.9, 5.8, 5.5, 6.5, 5.2,
           5.6, 6.0, 5.3, 4.7, 5.9, 5.5, 6.6, 5.1, 5.7, 5.4, 4.8, 5.8, 5.2, 5.6, 4.6, 5.3,
           2.0, 1.8, 2.3, 1.9, 2.1, 2.5, 1.8, 2.2, 2.0, 1.9, 2.4, 2.1, 1.8, 2.0, 2.3,
           1.9, 2.6, 2.0, 2.2, 1.8, 2.1, 1.9, 2.3, 2.0,
           2.4, 3.2, 2.8, 3.9, 4.3,
           4.8, 5.4, 4.5, 5.9, 5.2, 6.8, 5.6, 4.9,
           3.4, 2.6, 2.1, 3.0, 2.3, 3.8,
           4.7, 5.5, 5.0, 6.1, 5.3, 6.3, 5.8]
D_black2 = [3.9, 3.7, 4.0, 3.6, 3.8, 4.2, 3.7, 3.9, 3.6, 4.0, 3.8, 3.5, 3.9, 4.1, 3.7,
            3.8, 3.6, 4.0, 3.9, 4.3, 3.7, 3.9, 3.6, 3.8, 4.1, 3.7, 4.0, 3.6, 3.9, 3.8,
            4.2, 3.7, 3.9, 3.6, 4.0, 3.8, 3.7, 4.1, 3.6, 3.9, 3.8, 4.0, 3.7, 3.6, 3.9,
            4.2, 3.8, 3.7, 4.0, 3.6, 3.9, 3.8, 4.1, 3.7, 3.6, 3.9, 4.0, 3.8, 3.7, 4.2,
            3.6, 3.9, 3.8, 4.0, 3.7, 3.6, 4.1, 3.8, 3.9, 3.7, 4.0, 3.6, 3.8, 3.9, 4.2,
            3.7, 3.8, 3.6, 4.0, 3.9, 3.8, 3.6, 4.1, 3.7, 3.9, 3.8, 4.0, 3.6, 3.9, 4.3,
            3.7, 3.8, 3.9, 3.6, 4.1, 3.7, 3.8, 4.0, 3.6, 3.9, 4.0, 3.7, 3.9, 3.8, 3.6,
            4.1, 3.8, 3.7, 3.9, 4.0, 3.6, 3.9, 3.8, 4.0, 3.7, 3.9, 3.8, 4.1, 3.7, 4.0,
            5.2, 5.8, 5.5, 6.1, 5.0, 5.6, 5.9, 5.3, 6.2, 5.7, 5.4, 5.1, 6.0, 5.6, 5.3,
            5.9, 5.5, 6.3, 5.2, 5.8, 5.0, 5.6, 6.1, 5.4, 5.3, 5.7, 5.1, 5.5, 4.9, 5.2, 4.8,
            2.2, 1.9, 2.1, 2.4, 1.8, 2.0, 2.3, 1.9, 2.1, 2.2, 1.8, 2.0, 2.4, 1.9, 2.1,
            2.0, 2.2, 1.8, 2.3, 2.1, 1.9, 2.2, 2.0, 2.5,
            2.9, 2.2, 3.5, 3.1, 4.0,
            5.1, 4.6, 5.7, 5.0, 6.0, 5.4, 5.8, 4.4,
            2.8, 2.0, 2.5, 2.2, 3.2, 4.2,
            5.1, 4.8, 5.7, 5.4, 5.9, 6.0, 6.5]

BLUE = '#3a87f2'
RED_E = '#e3141b'
RED_B = '#c40f0f'

fig = plt.figure(figsize=(13.35, 9.65), dpi=100)

W, H = 1335.0, 965.0
def box(l, r, t, b):
    return [l / W, 1 - b / H, (r - l) / W, (b - t) / H]

axA = fig.add_axes(box(73, 668, 20, 416))
axC = fig.add_axes(box(722, 1316, 20, 416))
axB = fig.add_axes(box(65, 658, 502, 898))
axD = fig.add_axes(box(722, 1317, 500, 896))

panels = [
    dict(ax=axA, tmax=200, ylim=(0, 12), ystep=2,
         blue=(A_blue, A_blue2), red=(A_red, A_red2), black=(A_black, A_black2),
         redc=RED_E, title='Ethanol #4', letter='A',
         labels=['Ser52O-EtOH-H', 'Thr57H-EtOH-O', 'Ser52H-EtOH-O'], ylab=True,
         tpos=(0.02, 0.943), tsize=15.3, lpos=(0.914, 0.919), legpos=(0.0235, 0.907),
         legsize=12.2, legspace=0.1, legpad=0.5, ticksize=12, xlsize=15.5, xlpad=4),
    dict(ax=axC, tmax=200, ylim=(1, 8), ystep=1,
         blue=(C_blue, C_blue2), red=(C_red, C_red2), black=(C_black, C_black2),
         redc=RED_B, title='Butanol #3', letter='C',
         labels=['Ser52O-ButH', 'Thr57H-ButO', 'Ser52H-ButO'], ylab=False,
         tpos=(0.042, 0.927), tsize=16.5, lpos=(0.933, 0.934), legpos=(0.025, 0.881),
         legsize=13.0, legspace=0.0, legpad=0.5, ticksize=12, xlsize=15.5, xlpad=4),
    dict(ax=axB, tmax=200, ylim=(1, 8), ystep=1,
         blue=(B_blue, B_blue2), red=(B_red, B_red2), black=(B_black, B_black2),
         redc=RED_E, title='Ethanol #5', letter='B',
         labels=['Ser52O-EtOH H', 'Thr57H-EtOH O', 'Ser52H-EtOH O'], ylab=True,
         tpos=(0.045, 0.952), tsize=15.3, lpos=(0.936, 0.919), legpos=(0.032, 0.919),
         legsize=12.0, legspace=0.0, legpad=0.45, ticksize=12, xlsize=15.5, xlpad=4),
    dict(ax=axD, tmax=400, ylim=(1, 8), ystep=1,
         blue=(D_blue, D_blue2), red=(D_red, D_red2), black=(D_black, D_black2),
         redc=RED_B, title='Butanol #2', letter='D',
         labels=['Ser52O-ButH', 'Thr57H-ButO', 'Ser52H-ButO'], ylab=False,
         tpos=(0.026, 0.937), tsize=17.5, lpos=(0.929, 0.919), legpos=(0.028, 0.876),
         legsize=13.8, legspace=0.1, legpad=0.4, ticksize=13.5, xlsize=17, xlpad=7),
]


def times(n, tmax, shift):
    step = tmax / (n - 1)
    return np.linspace(0, tmax, n) + shift * step


for p in panels:
    ax = p['ax']
    tmax = p['tmax']
    for k, sh in ((0, 0.0), (1, 0.5)):
        b = p['blue'][k]
        ax.scatter(times(len(b), tmax, sh), b, s=24, marker='o', color=BLUE,
                   linewidths=0, zorder=2)
    for k, sh in ((0, 0.0), (1, 0.5)):
        r = p['red'][k]
        ax.scatter(times(len(r), tmax, sh), r, s=22, marker='s', color=p['redc'],
                   linewidths=0, zorder=3)
    for k, sh in ((0, 0.0), (1, 0.5)):
        kk = p['black'][k]
        ax.scatter(times(len(kk), tmax, sh), kk, s=20, marker='^', color='black',
                   linewidths=0, zorder=4)

    ax.set_xlim(0, tmax)
    ax.set_ylim(*p['ylim'])
    ax.xaxis.set_major_locator(MultipleLocator(50))
    ax.xaxis.set_minor_locator(MultipleLocator(10))
    ax.yaxis.set_major_locator(MultipleLocator(p['ystep']))
    ax.tick_params(axis='x', which='major', direction='inout', length=12, width=1.2,
                   top=True, bottom=True, labelsize=p['ticksize'])
    ax.tick_params(axis='x', which='minor', direction='in', length=5, width=1.0,
                   top=True, bottom=True)
    ax.tick_params(axis='y', which='major', direction='out', length=7, width=1.2,
                   left=True, right=True, labelsize=p['ticksize'])
    for lab in ax.get_xticklabels() + ax.get_yticklabels():
        lab.set_fontweight('bold')
    for sp in ax.spines.values():
        sp.set_linewidth(1.3)
        sp.set_color('#222222')

    ax.set_xlabel('Time (ps)', fontsize=p['xlsize'], fontweight='bold', labelpad=p['xlpad'])
    if p['ylab']:
        ax.set_ylabel('Distance (Ang)', fontsize=14.7, fontweight='bold', labelpad=8)

    ax.text(p['tpos'][0], p['tpos'][1], p['title'], transform=ax.transAxes,
            fontsize=p['tsize'], fontweight='bold', ha='left', va='center')
    ax.text(p['lpos'][0], p['lpos'][1], p['letter'], transform=ax.transAxes,
            fontsize=25, fontweight='bold', ha='center', va='center')

    handles = [
        Line2D([], [], linestyle='none', marker='o', color=BLUE, markersize=4.5),
        Line2D([], [], linestyle='none', marker='s', color=p['redc'], markersize=4.5),
        Line2D([], [], linestyle='none', marker='^', color='black', markersize=4.5),
    ]
    leg = ax.legend(handles, p['labels'], loc='upper left', bbox_to_anchor=p['legpos'],
                    frameon=True, fancybox=False, edgecolor='black',
                    prop={'size': p['legsize'], 'weight': 'bold'},
                    handletextpad=0.4, borderpad=p['legpad'], labelspacing=p['legspace'],
                    handlelength=2.6, borderaxespad=0)
    leg.get_frame().set_linewidth(1.2)
    for txt, c in zip(leg.get_texts(), [BLUE, p['redc'], 'black']):
        txt.set_color(c)

fig.savefig('out.png', dpi=100)
